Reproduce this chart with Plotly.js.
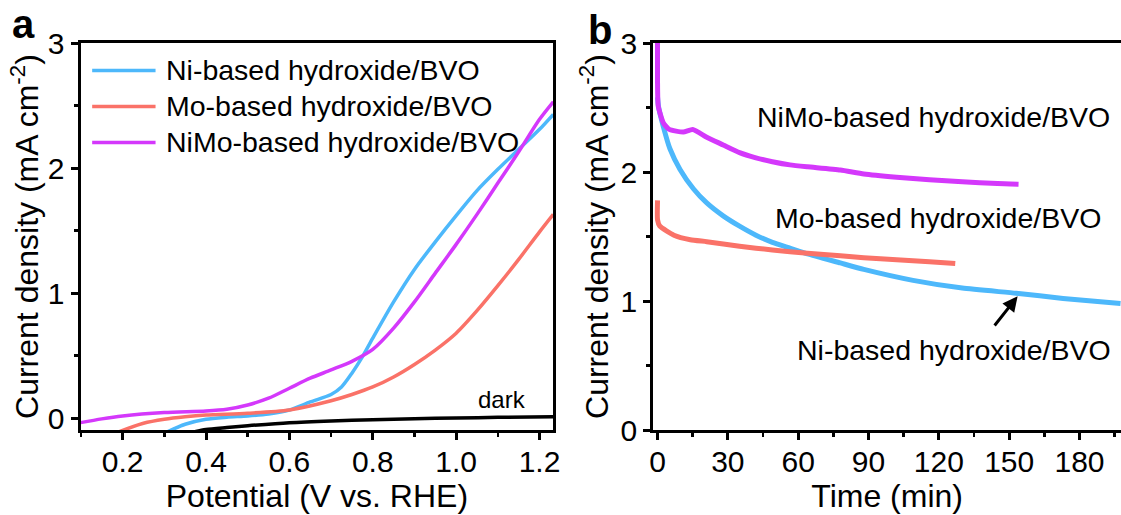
<!DOCTYPE html>
<html>
<head>
<meta charset="utf-8">
<script src="https://cdn.plot.ly/plotly-3.0.1.min.js"></script>
<style>html,body{margin:0;padding:0;background:#fff;}#chart{width:1121px;height:515px;}</style>
</head>
<body>
<div id="chart"></div>
<script>
// ---------- Panel a: LSV curves ----------
const seriesNames = ['Ni-based hydroxide/BVO', 'Mo-based hydroxide/BVO', 'NiMo-based hydroxide/BVO'];
const darkLabel = 'dark';

const niV   = [0.30, 0.35, 0.40, 0.45, 0.50, 0.55, 0.60, 0.65, 0.70, 0.725, 0.75, 0.775, 0.80, 0.85, 0.90, 0.95, 1.00, 1.05, 1.10, 1.15, 1.20, 1.233];
const niJ   = [-0.12, -0.048, -0.008, 0.008, 0.018, 0.034, 0.066, 0.13, 0.19, 0.25, 0.36, 0.49, 0.64, 0.93, 1.19, 1.41, 1.62, 1.82, 1.99, 2.15, 2.31, 2.43];

const moV   = [0.19, 0.25, 0.30, 0.35, 0.40, 0.50, 0.60, 0.70, 0.75, 0.80, 0.85, 0.90, 0.95, 1.00, 1.05, 1.10, 1.15, 1.20, 1.233];
const moJ   = [-0.11, -0.04, -0.008, 0.012, 0.026, 0.04, 0.066, 0.14, 0.19, 0.25, 0.33, 0.43, 0.545, 0.68, 0.86, 1.06, 1.27, 1.49, 1.63];

const nimoV = [0.099, 0.15, 0.20, 0.30, 0.40, 0.45, 0.50, 0.55, 0.60, 0.65, 0.70, 0.75, 0.80, 0.85, 0.90, 0.95, 1.00, 1.05, 1.10, 1.15, 1.20, 1.233];
const nimoJ = [-0.035, -0.005, 0.018, 0.045, 0.058, 0.072, 0.106, 0.16, 0.24, 0.32, 0.386, 0.455, 0.55, 0.72, 0.93, 1.16, 1.39, 1.63, 1.88, 2.13, 2.39, 2.53];

const darkV = [0.37, 0.40, 0.45, 0.50, 0.60, 0.70, 0.80, 0.90, 1.00, 1.10, 1.233];
const darkJ = [-0.11, -0.09, -0.074, -0.06, -0.036, -0.022, -0.012, -0.004, 0.002, 0.007, 0.012];

// ---------- Panel b: stability curves ----------
const niT    = [0, 0.5, 2.5, 5.3, 9.6, 15.3, 21, 28, 35, 42, 49, 56.5, 64, 78, 88, 109, 130, 153, 173, 197.5];
const niJb   = [2.58, 2.5, 2.35, 2.18, 2.02, 1.87, 1.76, 1.66, 1.58, 1.51, 1.455, 1.41, 1.365, 1.295, 1.245, 1.16, 1.10, 1.06, 1.02, 0.98];

const moT    = [0, 0, 1, 7, 14, 21, 35, 49, 64, 78, 88, 102, 116, 127];
const moJb   = [1.78, 1.63, 1.58, 1.51, 1.475, 1.46, 1.425, 1.395, 1.37, 1.35, 1.335, 1.32, 1.305, 1.29];

const nimoT  = [0, 0, 0.3, 2.5, 5, 11, 15, 21, 28, 35, 42, 49, 56.5, 64, 78, 88, 102, 116, 130, 145, 154];
const nimoJb = [3.05, 2.71, 2.51, 2.38, 2.33, 2.31, 2.33, 2.27, 2.21, 2.15, 2.11, 2.08, 2.055, 2.04, 2.015, 1.985, 1.96, 1.94, 1.925, 1.91, 1.905];

const colors = ['#4DB8FB', '#FA7268', '#D438FB'];
const FONT = '"Liberation Sans", Arial, Helvetica, sans-serif';

const traces = [
  {x: niV, y: niJ, name: seriesNames[0], color: colors[0]},
  {x: moV, y: moJ, name: seriesNames[1], color: colors[1]},
  {x: nimoV, y: nimoJ, name: seriesNames[2], color: colors[2]},
  {x: darkV, y: darkJ, name: darkLabel, color: '#000000'}
].map(s => ({
  type: 'scatter', mode: 'lines', x: s.x, y: s.y, name: s.name,
  xaxis: 'x', yaxis: 'y', showlegend: false,
  line: {color: s.color, width: 3.5, shape: 'spline', smoothing: 0.8}
})).concat([
  {x: niT, y: niJb, name: seriesNames[0], color: colors[0]},
  {x: moT, y: moJb, name: seriesNames[1], color: colors[1]},
  {x: nimoT, y: nimoJb, name: seriesNames[2], color: colors[2]}
].map(s => ({
  type: 'scatter', mode: 'lines', x: s.x, y: s.y, name: s.name,
  xaxis: 'x2', yaxis: 'y2', showlegend: false,
  line: {color: s.color, width: 5, shape: 'spline', smoothing: 0.5}
})));

const axisCommon = {
  showline: true, linewidth: 3, linecolor: '#000',
  ticks: 'outside', ticklen: 7, tickwidth: 3, tickcolor: '#000',
  showgrid: false, zeroline: false, automargin: false,
  tickfont: {family: FONT, size: 30, color: '#000'}
};

// manual legend inside panel a (positions in data units of panel a)
const legendRows = [2.781, 2.493, 2.205];
const shapes = [];
const annotations = [];
seriesNames.forEach((nm, i) => {
  shapes.push({type: 'line', xref: 'x', yref: 'y', x0: 0.127, x1: 0.279, y0: legendRows[i], y1: legendRows[i],
               line: {color: colors[i], width: 3.5}});
  annotations.push({xref: 'x', yref: 'y', x: 0.30, y: legendRows[i], text: nm, showarrow: false,
                    xanchor: 'left', yanchor: 'middle', font: {family: FONT, size: 28.5, color: '#000'}});
});
annotations.push({xref: 'x', yref: 'y', x: 1.11, y: 0.15, text: darkLabel, showarrow: false,
                  xanchor: 'center', yanchor: 'middle', font: {family: FONT, size: 24, color: '#000'}});

// panel b labels
annotations.push({xref: 'x2', yref: 'y2', x: 41.6, y: 2.43, text: seriesNames[2], showarrow: false,
                  xanchor: 'left', yanchor: 'middle', font: {family: FONT, size: 28.5, color: '#000'}});
annotations.push({xref: 'x2', yref: 'y2', x: 49.4, y: 1.647, text: seriesNames[1], showarrow: false,
                  xanchor: 'left', yanchor: 'middle', font: {family: FONT, size: 28.5, color: '#000'}});
annotations.push({xref: 'x2', yref: 'y2', x: 58.5, y: 0.62, text: seriesNames[0], showarrow: false,
                  xanchor: 'left', yanchor: 'middle', font: {family: FONT, size: 28.5, color: '#000'}});
annotations.push({xref: 'x2', yref: 'y2', x: 153.6, y: 1.036, text: ' ', showarrow: true,
                  ax: -26, ay: 33, arrowhead: 2, arrowsize: 1, arrowwidth: 3, arrowcolor: '#000'});

// panel letters
annotations.push({xref: 'paper', yref: 'paper', x: 23 / 1121, y: 1 - 24 / 515, text: '<b>a</b>', showarrow: false,
                  xanchor: 'center', yanchor: 'middle', font: {family: FONT, size: 40, color: '#000'}});
annotations.push({xref: 'paper', yref: 'paper', x: 600 / 1121, y: 1 - 30 / 515, text: '<b>b</b>', showarrow: false,
                  xanchor: 'center', yanchor: 'middle', font: {family: FONT, size: 40, color: '#000'}});

const yDomain = [85 / 515, 472 / 515];

const layout = {
  width: 1121, height: 515,
  margin: {l: 0, r: 0, t: 0, b: 0, pad: 0},
  paper_bgcolor: '#fff', plot_bgcolor: 'rgba(0,0,0,0)',
  showlegend: false,
  font: {family: FONT, color: '#000'},
  xaxis: Object.assign({}, axisCommon, {
    domain: [80.5 / 1121, 553.3 / 1121], range: [0.099, 1.233], anchor: 'y', mirror: true,
    tick0: 0.2, dtick: 0.2, tickformat: '.1f', ticklabelstandoff: -4,
    minor: {ticks: 'outside', ticklen: 4, tickwidth: 2.5, tickcolor: '#000', dtick: 0.1, tick0: 0.1, showgrid: false},
    title: {text: 'Potential (V vs. RHE)', font: {family: FONT, size: 32, color: '#000'}, standoff: 8}
  }),
  yaxis: Object.assign({}, axisCommon, {
    domain: yDomain, range: [-0.094, 3], anchor: 'x', mirror: true,
    tick0: 0, dtick: 1,
    minor: {ticks: 'outside', ticklen: 4, tickwidth: 2.5, tickcolor: '#000', dtick: 0.5, tick0: 0, showgrid: false},
    title: {text: 'Current density (mA cm<sup>-2</sup>)', font: {family: FONT, size: 32, color: '#000'}, standoff: 0}
  }),
  xaxis2: Object.assign({}, axisCommon, {
    domain: [653.3 / 1121, 1], range: [-1.8, 197.7], anchor: 'y2', mirror: true,
    tick0: 0, dtick: 30, ticklabelstandoff: -4,
    minor: {ticks: 'outside', ticklen: 4, tickwidth: 2.5, tickcolor: '#000', dtick: 15, tick0: 0, showgrid: false},
    title: {text: 'Time (min)', font: {family: FONT, size: 32, color: '#000'}, standoff: 6}
  }),
  yaxis2: Object.assign({}, axisCommon, {
    domain: yDomain, range: [0, 3], anchor: 'x2', mirror: false,
    tick0: 0, dtick: 1,
    minor: {ticks: 'outside', ticklen: 4, tickwidth: 2.5, tickcolor: '#000', dtick: 0.5, tick0: 0, showgrid: false},
    title: {text: 'Current density (mA cm<sup>-2</sup>)', font: {family: FONT, size: 32, color: '#000'}, standoff: 3}
  }),
  shapes: shapes,
  annotations: annotations
};

Plotly.newPlot('chart', traces, layout, {displayModeBar: false, staticPlot: true});
</script>
</body>
</html>
